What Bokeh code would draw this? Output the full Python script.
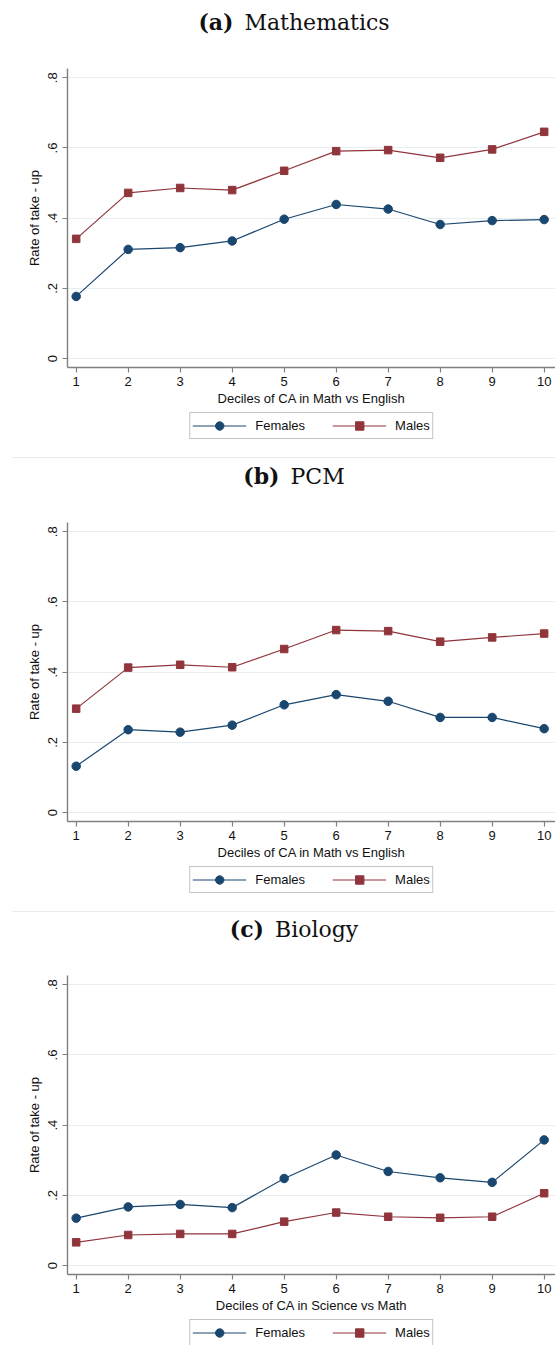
from bokeh.plotting import figure
from bokeh.models import (Range1d, FixedTicker, CustomJSTickFormatter, Legend,
                          LegendItem, Div)
from bokeh.layouts import column
from bokeh.embed import file_html
from bokeh.resources import INLINE

deciles = [1, 2, 3, 4, 5, 6, 7, 8, 9, 10]
y_ticks = [0, 0.2, 0.4, 0.6, 0.8]

math_females = [0.177, 0.311, 0.316, 0.335, 0.397, 0.439, 0.426, 0.382, 0.393, 0.396]
math_males = [0.341, 0.472, 0.486, 0.480, 0.535, 0.591, 0.594, 0.572, 0.596, 0.646]

pcm_females = [0.132, 0.236, 0.229, 0.249, 0.307, 0.336, 0.317, 0.271, 0.271, 0.239]
pcm_males = [0.296, 0.413, 0.421, 0.414, 0.466, 0.520, 0.517, 0.487, 0.499, 0.510]

bio_females = [0.135, 0.167, 0.174, 0.165, 0.248, 0.315, 0.268, 0.250, 0.237, 0.358]
bio_males = [0.066, 0.087, 0.090, 0.090, 0.125, 0.151, 0.139, 0.136, 0.139, 0.206]

series_labels = ["Females", "Males"]

panels = [
    ("(a)", "Mathematics", "Deciles of CA in Math vs English", math_females, math_males),
    ("(b)", "PCM", "Deciles of CA in Math vs English", pcm_females, pcm_males),
    ("(c)", "Biology", "Deciles of CA in Science vs Math", bio_females, bio_males),
]

NAVY = "#1a476f"
MAROON = "#90353b"
AXIS = "#808080"
SANS = "Liberation Sans"

TITLE_H = 44
MAIN_H = 366
legend_heights = [44, 43, 28]
sep_tops = [None, 3, 4]


def make_title(i, tag, name):
    sep = ""
    if sep_tops[i] is not None:
        sep = ('<div style="position:absolute;left:12px;right:0;top:%dpx;'
               'border-top:1px solid #ebebeb;"></div>' % sep_tops[i])
    html = (sep + '<div style="width:555px;text-align:center;padding-left:33px;'
            'box-sizing:border-box;white-space:nowrap;">'
            '<b style="margin-right:11px;">' + tag + '</b>' + name + '</div>')
    return Div(text=html, width=555, height=TITLE_H, margin=0,
               styles={"font-family": "DejaVu Serif", "font-size": "22px",
                       "line-height": str(TITLE_H) + "px", "color": "#111111",
                       "position": "relative"})


def draw_series(p, fem, mal):
    lf = p.line(deciles, fem, line_color=NAVY, line_width=1.2)
    sf = p.scatter(deciles, fem, marker="circle", size=8.5,
                   fill_color=NAVY, line_color=NAVY)
    lm = p.line(deciles, mal, line_color=MAROON, line_width=1.2)
    sm = p.scatter(deciles, mal, marker="square", size=7.5,
                   fill_color=MAROON, line_color=MAROON)
    return lf, sf, lm, sm


def make_panel(i, tag, name, xlabel, fem, mal):
    p = figure(width=555, height=MAIN_H, output_backend="svg", toolbar_location=None,
               x_range=Range1d(0.833, 10.218), y_range=Range1d(-0.0256, 0.8265),
               min_border_left=67, min_border_right=0, min_border_top=68 - TITLE_H,
               min_border_bottom=43)
    p.outline_line_color = None
    p.background_fill_color = "white"
    p.border_fill_color = "white"

    draw_series(p, fem, mal)

    p.xaxis.ticker = FixedTicker(ticks=deciles)
    p.yaxis.ticker = FixedTicker(ticks=y_ticks)
    p.yaxis.formatter = CustomJSTickFormatter(
        code="return tick == 0 ? '0' : tick.toFixed(1).replace(/^0/, '');")
    p.yaxis.major_label_orientation = "vertical"

    for ax in (p.xaxis, p.yaxis):
        ax.axis_line_color = AXIS
        ax.axis_line_width = 1.4
        ax.major_tick_line_color = AXIS
        ax.major_tick_line_width = 1.2
        ax.major_tick_out = 5
        ax.major_tick_in = 0
        ax.minor_tick_line_color = None
        ax.major_label_text_font = SANS
        ax.major_label_text_font_size = "13px"
        ax.major_label_text_color = "#111111"
        ax.axis_label_text_font = SANS
        ax.axis_label_text_font_size = "13px"
        ax.axis_label_text_font_style = "normal"
        ax.axis_label_text_color = "#111111"
    p.xaxis.axis_label = xlabel
    p.yaxis.axis_label = "Rate of take - up"
    p.xaxis.major_label_standoff = 4
    p.xaxis.axis_label_standoff = 2
    p.yaxis.major_label_standoff = 5
    p.yaxis.axis_label_standoff = 4

    p.xgrid.grid_line_color = None
    p.ygrid.grid_line_color = "#e6eef0"
    p.ygrid.grid_line_width = 1.2
    return p


def make_legend_fig(i, fem, mal):
    # legend-only strip: the series sit outside this strip's ranges, so only
    # the legend's sample glyphs are visible
    q = figure(width=555, height=legend_heights[i], output_backend="svg",
               toolbar_location=None, x_axis_type=None, y_axis_type=None,
               x_range=Range1d(0.833, 10.218), y_range=Range1d(-20, -19),
               min_border_left=67, min_border_right=0, min_border_top=0,
               min_border_bottom=0)
    q.outline_line_color = None
    q.grid.visible = False
    q.background_fill_color = "white"
    q.border_fill_color = "white"
    lf, sf, lm, sm = draw_series(q, fem, mal)
    items = [LegendItem(label=series_labels[0], renderers=[lf, sf]),
             LegendItem(label=series_labels[1], renderers=[lm, sm])]
    legend = Legend(items=items, orientation="horizontal", location="top_center",
                    glyph_width=54, glyph_height=21, label_height=11,
                    label_standoff=9, spacing=27, padding=2, margin=2,
                    border_line_color="#8a8a8a", border_line_width=1.3,
                    background_fill_color="white", background_fill_alpha=1,
                    label_text_font=SANS, label_text_font_size="13px",
                    label_text_color="#111111")
    q.add_layout(legend)
    return q


blocks = []
for i, pn in enumerate(panels):
    blocks.append(make_title(i, pn[0], pn[1]))
    blocks.append(make_panel(i, *pn))
    blocks.append(make_legend_fig(i, pn[3], pn[4]))
layout = column(*blocks, spacing=0)
open("out.html", "w").write(file_html(layout, INLINE))
